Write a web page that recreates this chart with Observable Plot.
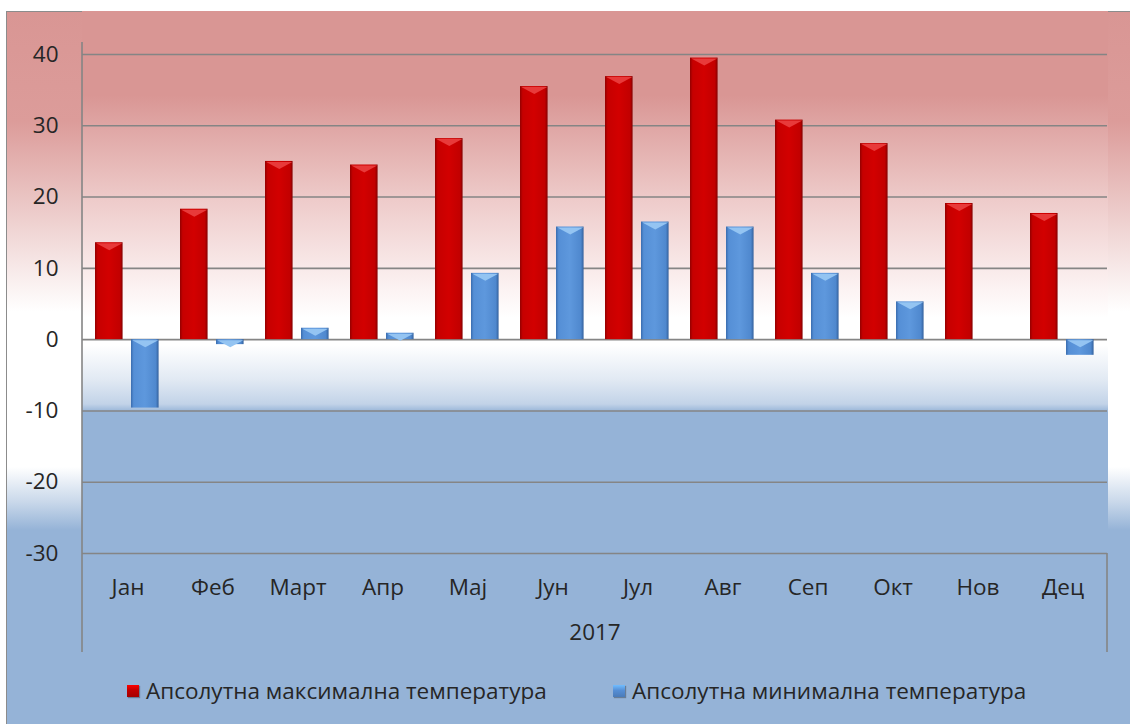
<!DOCTYPE html>
<html>
<head>
<meta charset="utf-8">
<script src="https://cdn.jsdelivr.net/npm/d3@7"></script>
<script src="https://cdn.jsdelivr.net/npm/@observablehq/plot@0.6"></script>
<style>
  html, body { margin: 0; padding: 0; }
  body { width: 1130px; height: 724px; overflow: hidden; position: relative; background: #fff; font-family: "Open Sans", sans-serif; }
  #frame {
    position: absolute; left: 6px; top: 11px; width: 1140px; height: 730px;
    border-left: 1.5px solid #8c8c8c; border-top: 1.5px solid #8c8c8c;
    background: linear-gradient(to bottom,
      #d99694 0px, #dc9c9a 110px, #f3dedd 235px, #ffffff 300px,
      #ffffff 455px, #c9d8ea 490px, #95b3d7 518px, #95b3d7 730px);
  }
  #chart { position: absolute; left: 0; top: 0; }
  #legend { position: absolute; left: 0; top: 0; width: 1130px; height: 724px; pointer-events: none; }
  .lg-item { position: absolute; top: 676px; height: 30px; line-height: 30px; font-size: 22.5px; color: #262626; white-space: nowrap; }
  .sw { display: inline-block; width: 12px; height: 12px; vertical-align: middle; margin-right: 7px; position: relative; top: -2px; }
</style>
</head>
<body>
<div id="frame"></div>
<div id="chart"></div>
<div id="legend"></div>
<script>
// ---- data ----
const months = ["Јан", "Феб", "Март", "Апр", "Мај", "Јун", "Јул", "Авг", "Сеп", "Окт", "Нов", "Дец"];
const maxTemp = [13.6, 18.3, 25.0, 24.5, 28.2, 35.5, 36.9, 39.5, 30.8, 27.5, 19.1, 17.7];
const minTemp = [-9.6, -0.7, 1.6, 0.9, 9.3, 15.8, 16.5, 15.8, 9.3, 5.3, 0, -2.2];
const yTicks = [-30, -20, -10, 0, 10, 20, 30, 40];
const yearLabel = "2017";
const seriesNames = ["Апсолутна максимална температура", "Апсолутна минимална температура"];
const seriesColors = ["#c00000", "#558ed5"];

// ---- layout ----
const W = 1130, H = 665;
const mL = 82, mR = 23, mT = 54, mB = 112;
const step = (W - mL - mR) / months.length;

const data = months.map((m, i) => ({month: m, max: maxTemp[i], min: minTemp[i]}));

const chevron = {
  draw(ctx) {
    ctx.moveTo(-13, 0.5);
    ctx.lineTo(13, 0.5);
    ctx.lineTo(0, 7.5);
    ctx.closePath();
  }
};

const chart = Plot.plot({
  width: W, height: H,
  marginLeft: mL, marginRight: mR, marginTop: mT, marginBottom: mB,
  style: {background: "transparent", fontFamily: "'Open Sans', sans-serif", fontSize: "22.5px", color: "#262626", overflow: "visible"},
  x: {domain: months, padding: 0},
  y: {domain: [-30, 40]},
  marks: [
    Plot.ruleY(yTicks, {stroke: "#858585", strokeWidth: 1.6, strokeOpacity: 1}),
    Plot.barY(data, {x: "month", y: "max", fill: "url(#gRed)", insetLeft: 10, insetRight: step - 38, ariaLabel: "max-bars"}),
    Plot.barY(data, {x: "month", y: "min", fill: "url(#gBlue)", insetLeft: 46, insetRight: step - 74, ariaLabel: "min-bars"}),
    Plot.dot(data, {x: "month", y: d => Math.max(0, d.max), symbol: chevron, fill: "#e83a3a", stroke: null, dx: 24 - step / 2}),
    Plot.dot(data.filter(d => d.min !== 0), {x: "month", y: d => Math.max(0, d.min), symbol: chevron, fill: "#94c4f2", stroke: null, dx: 60 - step / 2}),
    Plot.axisY({ticks: yTicks, tickSize: 0, tickPadding: 24, label: null, tickFormat: d => String(d)}),
    Plot.axisX({tickSize: 0, tickPadding: 26, label: null}),
    Plot.text([yearLabel], {text: d => d, frameAnchor: "bottom", dy: 86})
  ]
});

// ---- decorations: gradients, background, shadow, axis box lines ----
const NS = "http://www.w3.org/2000/svg";
const svg = d3.select(chart);
const first = chart.firstChild;
const defs = d3.select(chart.insertBefore(document.createElementNS(NS, "defs"), first));

function lin(id, stops, attrs) {
  const g = defs.append("linearGradient").attr("id", id);
  Object.entries(attrs).forEach(([k, v]) => g.attr(k, v));
  stops.forEach(([o, c]) => g.append("stop").attr("offset", o).attr("stop-color", c));
}
lin("gRed", [[0, "#930000"], [0.1, "#c60000"], [0.5, "#d20000"], [0.9, "#c20000"], [1, "#850000"]], {x1: 0, x2: 1, y1: 0, y2: 0});
lin("gBlue", [[0, "#3a6cae"], [0.1, "#558fd6"], [0.5, "#5e98dd"], [0.9, "#4f88ce"], [1, "#33609c"]], {x1: 0, x2: 1, y1: 0, y2: 0});
const bgTop = 11, bgBot = 652;
const off = y => (y - bgTop) / (bgBot - bgTop);
lin("gBg", [
  [0, "#d99694"], [off(95), "#d99694"], [off(200), "#eecbca"], [off(290), "#fcf3f3"],
  [off(318), "#ffffff"], [off(345), "#ffffff"], [off(380), "#e1e9f3"], [off(404), "#c2d3e8"],
  [off(412), "#95b3d7"], [1, "#95b3d7"]
], {gradientUnits: "userSpaceOnUse", x1: 0, x2: 0, y1: bgTop, y2: bgBot});

const f = defs.append("filter").attr("id", "shadow").attr("x", "-30%").attr("y", "-10%").attr("width", "170%").attr("height", "130%");
f.append("feDropShadow").attr("dx", 2).attr("dy", 3).attr("stdDeviation", 2.2).attr("flood-color", "#000").attr("flood-opacity", 0.35);

const bg = document.createElementNS(NS, "rect");
chart.insertBefore(bg, first);
d3.select(bg).attr("x", mL).attr("y", bgTop).attr("width", W - mR - mL + 1).attr("height", bgBot - bgTop).attr("fill", "url(#gBg)");

svg.selectAll('g[aria-label="max-bars"], g[aria-label="min-bars"]').attr("filter", "url(#shadow)");

const yBottom = H - mB;
const lines = svg.append("g").attr("stroke", "#858585").attr("stroke-width", 1.6);
lines.append("line").attr("x1", mL).attr("x2", mL).attr("y1", 42).attr("y2", bgBot);
lines.append("line").attr("x1", W - mR).attr("x2", W - mR).attr("y1", yBottom).attr("y2", bgBot);

document.getElementById("chart").appendChild(chart);

// ---- legend ----
const legend = document.getElementById("legend");
const lgPos = [127, 613];
seriesNames.forEach((name, i) => {
  const item = document.createElement("div");
  item.className = "lg-item";
  item.style.left = lgPos[i] + "px";
  const sw = document.createElement("span");
  sw.className = "sw";
  const c = d3.color(seriesColors[i]);
  sw.style.background = `linear-gradient(to bottom, ${c.brighter(0.8)} 0%, ${c} 45%, ${c.darker(0.4)} 100%)`;
  sw.style.boxShadow = "1px 1px 1px rgba(0,0,0,0.3)";
  item.appendChild(sw);
  item.appendChild(document.createTextNode(name));
  legend.appendChild(item);
});
</script>
</body>
</html>
